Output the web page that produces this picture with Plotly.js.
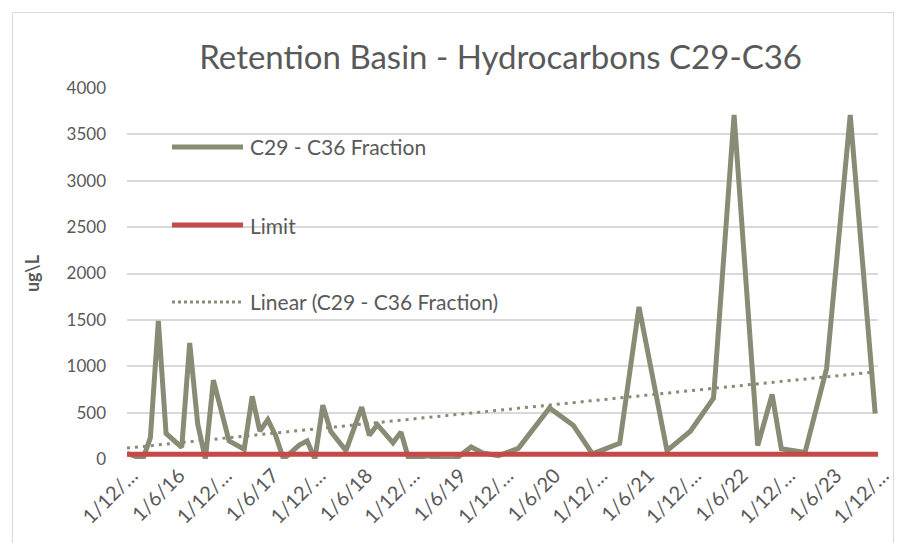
<!DOCTYPE html>
<html>
<head>
<meta charset="utf-8">
<script src="https://cdn.plot.ly/plotly-3.0.1.min.js"></script>
<style>
  html, body { margin: 0; padding: 0; background: #ffffff; }
  #chart { width: 902px; height: 543px; position: relative; }
  #frame { position: absolute; left: 12px; top: 12px; width: 880px; height: 540px;
           border: 1.5px solid #d9d9d9; pointer-events: none; }
</style>
</head>
<body>
<div id="chart"></div>
<div id="frame"></div>
<script>
// ---- data ----
const sampleDates = [
  '2015-12-01','2016-01-01','2016-02-01','2016-03-01','2016-04-01','2016-05-01','2016-07-01',
  '2016-08-01','2016-09-01','2016-10-01','2016-11-01','2017-01-01','2017-03-01','2017-04-01',
  '2017-05-01','2017-06-01','2017-07-01','2017-08-01','2017-10-01','2017-11-01','2017-12-01',
  '2018-01-01','2018-02-01','2018-04-01','2018-06-01','2018-07-01','2018-08-01','2018-10-01',
  '2018-11-01','2018-12-01','2019-02-15','2019-04-01','2019-06-01','2019-08-01','2019-09-15',
  '2019-11-15','2020-02-01','2020-06-01','2020-09-01','2020-11-15','2021-03-01','2021-05-15',
  '2021-09-01','2021-12-01','2022-03-01','2022-05-20','2022-08-20','2022-10-15','2022-11-20',
  '2023-02-20','2023-05-15','2023-08-15','2023-11-20'
];
const fractionValues = [
  60, 25, 0, 230, 1490, 275, 125,
  1250, 380, 0, 850, 195, 105, 675,
  300, 425, 255, 0, 150, 195, 0,
  580, 295, 90, 560, 255, 370, 175,
  290, 0, 35, 0, 0, 130, 65,
  35, 115, 550, 365, 55, 170, 1640,
  90, 300, 655, 3710, 145, 695, 110,
  70, 975, 3710, 490
];
const limitDates = ['2015-12-01', '2023-12-01'];
const limitValues = [50, 50];

const tickDates = [
  '2015-12-01','2016-06-01','2016-12-01','2017-06-01','2017-12-01','2018-06-01',
  '2018-12-01','2019-06-01','2019-12-01','2020-06-01','2020-12-01','2021-06-01',
  '2021-12-01','2022-06-01','2022-12-01','2023-06-01','2023-12-01'
];
const tickLabels = [
  '1/12/…','1/6/16','1/12/…','1/6/17','1/12/…','1/6/18',
  '1/12/…','1/6/19','1/12/…','1/6/20','1/12/…','1/6/21',
  '1/12/…','1/6/22','1/12/…','1/6/23','1/12/…'
];
const seriesNames = ['C29 - C36 Fraction', 'Limit', 'Linear (C29 - C36 Fraction)'];

// ---- linear trend (least squares on date) ----
const t = sampleDates.map(d => new Date(d + 'T00:00:00Z').getTime());
const n = t.length;
const mt = t.reduce((a, b) => a + b, 0) / n;
const my = fractionValues.reduce((a, b) => a + b, 0) / n;
let sxy = 0, sxx = 0;
for (let i = 0; i < n; i++) { sxy += (t[i] - mt) * (fractionValues[i] - my); sxx += (t[i] - mt) ** 2; }
const slope = sxy / sxx, icpt = my - slope * mt;
const trendDates = [sampleDates[0], sampleDates[n - 1]];
const trendValues = trendDates.map(d => icpt + slope * new Date(d + 'T00:00:00Z').getTime());

// ---- styling ----
const olive = '#8a8b74';
const red = '#c44a4a';
const textCol = '#595959';
const FONT = 'Lato, "Open Sans", sans-serif';

const traces = [
  { x: sampleDates, y: fractionValues, type: 'scatter', mode: 'lines', name: seriesNames[0],
    line: { color: olive, width: 5, shape: 'linear' } },
  { x: limitDates, y: limitValues, type: 'scatter', mode: 'lines', name: seriesNames[1],
    line: { color: red, width: 5 } },
  { x: trendDates, y: trendValues, type: 'scatter', mode: 'lines', name: seriesNames[2],
    line: { color: olive, width: 3, dash: '3px,5px' } }
];

// custom legend (inside plot area, as in the reference)
const legY = [0.841, 0.6307, 0.4232];
const legCol = [olive, red, olive];
const legW = [5, 5, 3];
const legDash = ['solid', 'solid', 'dot'];
const shapes = [], annotations = [];
for (let i = 0; i < 3; i++) {
  shapes.push({ type: 'line', xref: 'paper', yref: 'paper', x0: 0.0599, x1: 0.1545, y0: legY[i], y1: legY[i],
    line: { color: legCol[i], width: legW[i], dash: legDash[i] } });
  annotations.push({ xref: 'paper', yref: 'paper', x: 0.1611, y: legY[i], xanchor: 'left', yanchor: 'middle',
    text: seriesNames[i], showarrow: false, font: { family: FONT, size: 21, color: textCol } });
}

const layout = {
  width: 902, height: 543,
  margin: { l: 127, r: 24, t: 88, b: 84 },
  paper_bgcolor: '#ffffff', plot_bgcolor: '#ffffff',
  showlegend: false,
  hovermode: false,
  title: { text: 'Retention Basin - Hydrocarbons C29-C36', x: 0.555, xanchor: 'center', y: 0.895, yanchor: 'middle',
    font: { family: FONT, size: 33, color: textCol } },
  xaxis: {
    type: 'date', range: ['2015-12-01', '2023-12-01'],
    tickmode: 'array', tickvals: tickDates, ticktext: tickLabels, tickangle: -45,
    showgrid: false, zeroline: false, showline: false, ticks: '',
    ticklabelshift: 5,
    tickfont: { family: FONT, size: 20, color: textCol }
  },
  yaxis: {
    range: [0, 4000], dtick: 500, tick0: 0,
    showgrid: true, gridcolor: '#d9d9d9', gridwidth: 2, zeroline: false, showline: false, ticks: '',
    ticklabelstandoff: 20,
    tickfont: { family: FONT, size: 17, color: textCol },
    title: { text: 'ug\\L', standoff: 22, font: { family: FONT, size: 18, color: textCol, weight: 'bold' } }
  },
  shapes: shapes,
  annotations: annotations
};

Plotly.newPlot('chart', traces, layout, { displayModeBar: false, staticPlot: true });
</script>
</body>
</html>
